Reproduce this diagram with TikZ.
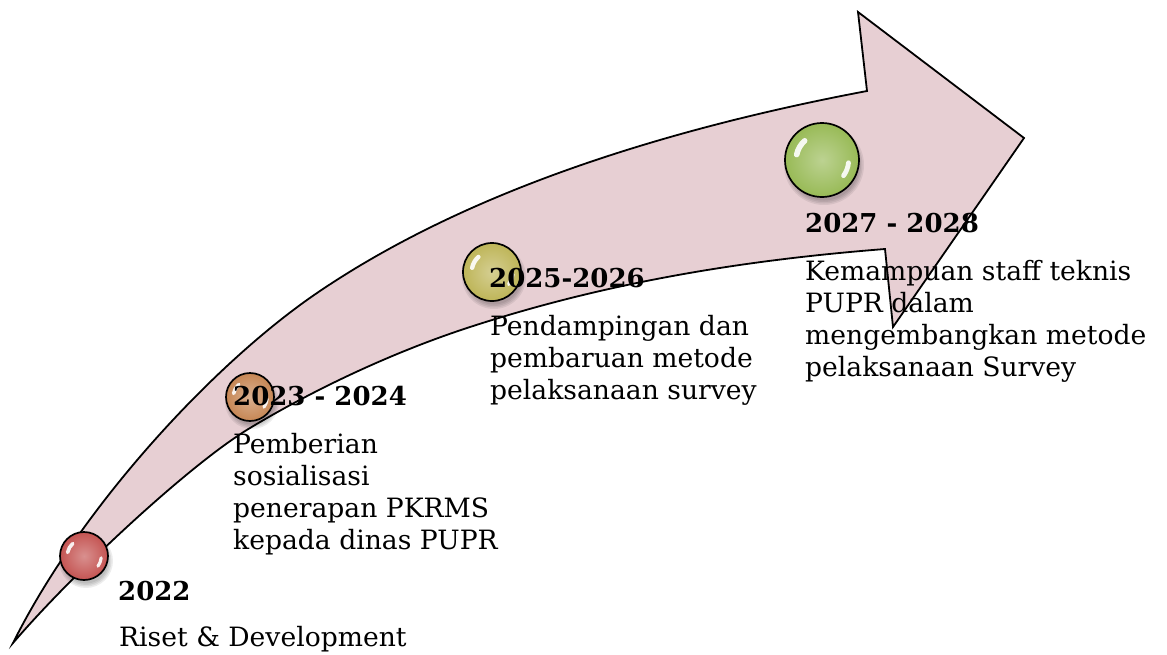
\documentclass[tikz,border=0pt]{standalone}
\usepackage{fontspec}
\setmainfont{DejaVu Serif}
\usetikzlibrary{calc}

\definecolor{arrowfill}{RGB}{231,207,211}
\definecolor{ballred}{RGB}{196,84,82}
\definecolor{ballorange}{RGB}{198,134,84}
\definecolor{ballyellow}{RGB}{190,181,88}
\definecolor{ballgreen}{RGB}{152,186,86}

\tikzset{
  arrowline/.style={draw=black, line width=1.8pt, fill=arrowfill, line join=miter},
  glassball/.style={circle, draw=black, line width=1.7pt, inner sep=0pt},
  yearlabel/.style={anchor=base west, inner sep=0pt, font=\fontsize{26}{32}\selectfont\bfseries},
  desc/.style={anchor=base west, inner sep=0pt, font=\fontsize{26.6}{32}\selectfont},
  shine/.style={white, line cap=round, opacity=.9},
}

% glossy sphere: name, x, y, radius, colour
\newcommand\glassballat[5]{%
  \foreach \k in {0,1,2,3}
    \fill[black, opacity=.07] ($(#2,#3)+(2,5)$) circle[radius=#4+3-\k*1.5];
  \node[glassball, minimum size={2*#4pt}, inner color=#5!65!white, outer color=#5] (#1) at (#2,#3) {};
  \draw[shine, line width={0.15*#4pt}]
    ($(#1.center)+(192:0.70*#4)$) arc[start angle=192, end angle=228, radius=0.70*#4];
  \draw[shine, line width={0.13*#4pt}]
    ($(#1.center)+(6:0.72*#4)$) arc[start angle=6, end angle=36, radius=0.72*#4];
}

\begin{document}
\begin{tikzpicture}[x=1pt, y=-1pt]
\useasboundingbox (0,0) rectangle (1167,654);

% curved timeline arrow
\path[arrowline]
  (13,643)
  .. controls (83,503) and (217,361) .. (317,293)
  .. controls (477,184) and (687,125) .. (867,91)
  -- (858,12) -- (1024,138) -- (893,327) -- (885,249)
  .. controls (745,260) and (607,282) .. (467,328)
  .. controls (397,351) and (320,386) .. (250,428)
  .. controls (190,464) and (73,573) .. (13,643)
  -- cycle;

% milestones
\glassballat{m1}{84}{556}{24}{ballred}
\glassballat{m2}{250}{397}{24}{ballorange}
\glassballat{m3}{492}{272}{29}{ballyellow}
\glassballat{m4}{822}{160}{37}{ballgreen}

% labels
\node[yearlabel] (y1) at (118,600) {2022};
\node[desc] (d1) at (119,646) {Riset \& Development};

\node[yearlabel] (y2) at (233,405) {2023 - 2024};
\node[desc] (d2) at (233,453) {\begin{tabular}[t]{@{}l@{}}Pemberian\\sosialisasi\\penerapan PKRMS\\kepada dinas PUPR\end{tabular}};

\node[yearlabel] (y3) at (489,287) {2025-2026};
\node[desc] (d3) at (490,335) {\begin{tabular}[t]{@{}l@{}}Pendampingan dan\\pembaruan metode\\pelaksanaan survey\end{tabular}};

\node[yearlabel] (y4) at (805,232) {2027 - 2028};
\node[desc] (d4) at (805,280) {\begin{tabular}[t]{@{}l@{}}Kemampuan staff teknis\\PUPR dalam\\mengembangkan metode\\pelaksanaan Survey\end{tabular}};
\end{tikzpicture}
\end{document}
